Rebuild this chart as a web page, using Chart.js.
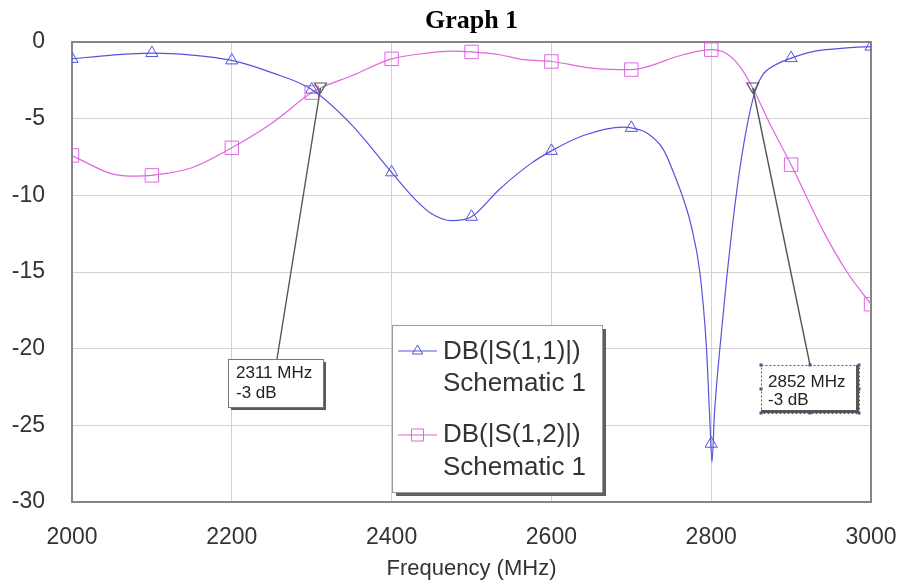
<!DOCTYPE html>
<html>
<head>
<meta charset="utf-8">
<script src="https://cdn.jsdelivr.net/npm/chart.js@4.4.1/dist/chart.umd.min.js"></script>
<style>
  html, body { margin: 0; padding: 0; background: #fff; }
  #wrap { width: 901px; height: 584px; }
</style>
</head>
<body>
<div id="wrap"><canvas id="myChart" width="901" height="584"></canvas></div>
<script>
// DB(|S(1,1)|) curve
const s11Freq = [2000, 2050, 2100, 2150, 2200, 2250, 2300, 2350, 2400, 2430, 2450, 2475, 2500, 2535, 2575, 2600, 2640, 2690, 2700, 2720, 2740, 2755, 2765, 2775, 2786, 2794, 2798, 2801, 2804, 2811, 2819, 2832, 2844, 2855, 2865, 2880, 2900, 2930, 2970, 3000];
const s11Db   = [-1.1, -0.85, -0.72, -0.85, -1.2, -2.0, -3.1, -5.4, -8.5, -10.3, -11.2, -11.65, -11.4, -9.6, -7.9, -7.1, -6.1, -5.55, -5.6, -5.95, -7.0, -8.8, -10.2, -12.0, -15.1, -19.9, -24.3, -27.4, -24.3, -19.9, -15.6, -9.7, -5.7, -3.2, -2.1, -1.5, -1.05, -0.6, -0.38, -0.3];

// DB(|S(1,2)|) curve
const s12Freq = [2000, 2050, 2080, 2100, 2150, 2200, 2250, 2300, 2311, 2350, 2400, 2445, 2475, 2500, 2535, 2565, 2600, 2650, 2700, 2765, 2800, 2819, 2836, 2852, 2875, 2900, 2940, 2970, 3000];
const s12Db   = [-7.4, -8.6, -8.75, -8.7, -8.2, -6.9, -5.3, -3.3, -3.0, -2.2, -1.1, -0.72, -0.6, -0.65, -0.83, -1.15, -1.27, -1.7, -1.8, -0.83, -0.5, -0.75, -1.6, -3.0, -5.5, -8.0, -12.3, -15.0, -17.1];

// marker symbols every 100 MHz
const markFreq  = [2000, 2100, 2200, 2300, 2400, 2500, 2600, 2700, 2800, 2900, 3000];
const s11Marks  = [-1.1, -0.72, -1.2, -3.1, -8.5, -11.4, -7.1, -5.6, -26.2, -1.05, -0.3];
const s12Marks  = [-7.4, -8.7, -6.9, -3.3, -1.1, -0.65, -1.27, -1.8, -0.5, -8.0, -17.1];

// -3 dB marker readouts
const readFreq = [2311, 2852];
const readDb   = [-3, -3];

const xTicks = [2000, 2200, 2400, 2600, 2800, 3000];
const yTicks = [0, -5, -10, -15, -20, -25, -30];

const BLUE = '#5454dc';
const PINK = '#e066e0';
const FONT = '"Liberation Sans", Arial, sans-serif';

function pts(xs, ys) {
  return xs.map((x, i) => ({ x: x, y: ys[i] }));
}

// title, frame, legend box and marker readouts
const extras = {
  id: 'extras',
  beforeDatasetsDraw(chart) {
    const ctx = chart.ctx, a = chart.chartArea;
    ctx.save();
    ctx.strokeStyle = '#858585';
    ctx.lineWidth = 2;
    ctx.strokeRect(a.left, a.top, a.right - a.left, a.bottom - a.top);
    ctx.restore();
  },
  afterDraw(chart) {
    const ctx = chart.ctx, a = chart.chartArea;
    const xs = chart.scales.x, ys = chart.scales.y;
    ctx.save();

    // title
    ctx.fillStyle = '#000';
    ctx.font = 'bold 26px "Liberation Serif", "Times New Roman", serif';
    ctx.textAlign = 'center';
    ctx.textBaseline = 'alphabetic';
    ctx.fillText('Graph 1', (a.left + a.right) / 2, 28);

    // marker readouts
    const boxes = [
      { l: 228, t: 359, r: 323, b: 407, lx: 277, tx: 236, b1: 378, b2: 398, sel: false },
      { l: 761, t: 365, r: 859, b: 413, lx: 810, tx: 768, b1: 387, b2: 405, sel: true }
    ];
    readFreq.forEach((f, i) => {
      const px = xs.getPixelForValue(f), py = ys.getPixelForValue(readDb[i]);
      const bx = boxes[i];
      ctx.strokeStyle = '#555';
      ctx.lineWidth = 1.4;
      ctx.beginPath();
      ctx.moveTo(bx.lx, bx.t);
      ctx.lineTo(px, py);
      ctx.stroke();
      // inverted triangle at the marker
      ctx.lineWidth = 1.2;
      ctx.beginPath();
      ctx.moveTo(px - 6, py - 5);
      ctx.lineTo(px + 6, py - 5);
      ctx.lineTo(px, py + 5);
      ctx.closePath();
      ctx.stroke();

      // box
      if (!bx.sel) {
        ctx.fillStyle = '#5a5a5a';
        ctx.fillRect(bx.l + 3, bx.t + 3, bx.r - bx.l, bx.b - bx.t);
        ctx.fillStyle = '#fff';
        ctx.fillRect(bx.l, bx.t, bx.r - bx.l, bx.b - bx.t);
        ctx.strokeStyle = '#777';
        ctx.lineWidth = 1;
        ctx.strokeRect(bx.l + 0.5, bx.t + 0.5, bx.r - bx.l, bx.b - bx.t);
      } else {
        ctx.fillStyle = '#fff';
        ctx.fillRect(bx.l, bx.t, bx.r - bx.l, bx.b - bx.t);
        ctx.fillStyle = '#555';
        ctx.fillRect(bx.l, bx.b - 3, bx.r - bx.l, 3);
        ctx.fillRect(bx.r - 3, bx.t, 3, bx.b - bx.t);
        ctx.strokeStyle = '#3d5a8a';
        ctx.lineWidth = 1;
        ctx.setLineDash([2, 2]);
        ctx.strokeRect(bx.l + 0.5, bx.t + 0.5, bx.r - bx.l, bx.b - bx.t);
        ctx.setLineDash([]);
        ctx.fillStyle = '#3d5a8a';
        const mx = (bx.l + bx.r) / 2, my = (bx.t + bx.b) / 2;
        [[bx.l, bx.t], [mx, bx.t], [bx.r, bx.t], [bx.l, my], [bx.r, my], [bx.l, bx.b], [mx, bx.b], [bx.r, bx.b]]
          .forEach(h => ctx.fillRect(h[0] - 1.5, h[1] - 1.5, 3, 3));
      }
      ctx.fillStyle = '#222';
      ctx.font = '17px ' + FONT;
      ctx.textAlign = 'left';
      ctx.fillText(f + ' MHz', bx.tx, bx.b1);
      ctx.fillText(readDb[i] + ' dB', bx.tx, bx.b2);
    });

    // legend
    const L = { l: 392, t: 325, r: 602, b: 492 };
    ctx.fillStyle = '#5f5f5f';
    ctx.fillRect(L.l + 4, L.t + 4, L.r - L.l, L.b - L.t);
    ctx.fillStyle = '#fff';
    ctx.fillRect(L.l, L.t, L.r - L.l, L.b - L.t);
    ctx.strokeStyle = '#9a9a9a';
    ctx.lineWidth = 1;
    ctx.strokeRect(L.l + 0.5, L.t + 0.5, L.r - L.l, L.b - L.t);

    const entries = [
      { name: 'DB(|S(1,1)|)', color: BLUE, style: 'triangle', r: 6, ly: 351, b1: 359, b2: 391 },
      { name: 'DB(|S(1,2)|)', color: PINK, style: 'rect', r: 8.5, ly: 435, b1: 442, b2: 475 }
    ];
    entries.forEach(e => {
      ctx.strokeStyle = e.color;
      ctx.lineWidth = 1.2;
      ctx.beginPath();
      ctx.moveTo(398, e.ly);
      ctx.lineTo(437, e.ly);
      ctx.stroke();
      ctx.fillStyle = 'rgba(255,255,255,0)';
      ctx.lineWidth = 1;
      Chart.helpers.drawPoint(ctx, { pointStyle: e.style, radius: e.r, borderWidth: 1, rotation: 0 }, 417.5, e.ly);
      ctx.fillStyle = '#333';
      ctx.font = '26px ' + FONT;
      ctx.textAlign = 'left';
      ctx.fillText(e.name, 443, e.b1);
      ctx.fillText('Schematic 1', 443, e.b2);
    });
    ctx.restore();
  }
};

var ctx = document.getElementById('myChart').getContext('2d');
var myChart = new Chart(ctx, {
  type: 'scatter',
  data: {
    datasets: [
      {
        label: 'DB(|S(1,1)|)',
        data: pts(s11Freq, s11Db),
        showLine: true,
        borderColor: BLUE,
        borderWidth: 1.2,
        pointRadius: 0,
        cubicInterpolationMode: 'monotone'
      },
      {
        label: 'S11 markers',
        data: pts(markFreq, s11Marks),
        showLine: false,
        pointStyle: 'triangle',
        pointRadius: 7,
        pointBorderWidth: 1,
        pointBorderColor: BLUE,
        pointBackgroundColor: 'rgba(0,0,0,0)'
      },
      {
        label: 'DB(|S(1,2)|)',
        data: pts(s12Freq, s12Db),
        showLine: true,
        borderColor: PINK,
        borderWidth: 1.2,
        pointRadius: 0,
        cubicInterpolationMode: 'monotone'
      },
      {
        label: 'S12 markers',
        data: pts(markFreq, s12Marks),
        showLine: false,
        pointStyle: 'rect',
        pointRadius: 9.5,
        pointBorderWidth: 1,
        pointBorderColor: PINK,
        pointBackgroundColor: 'rgba(0,0,0,0)'
      }
    ]
  },
  options: {
    responsive: false,
    animation: false,
    devicePixelRatio: 1,
    layout: { padding: { top: 42, right: 30, left: 0, bottom: 0 } },
    plugins: {
      legend: { display: false },
      tooltip: { enabled: false },
      title: { display: false }
    },
    scales: {
      x: {
        type: 'linear',
        min: 2000,
        max: 3000,
        afterFit: s => { s.height = 82; s.paddingLeft = 0; s.paddingRight = 0; },
        afterBuildTicks: s => { s.ticks = xTicks.map(v => ({ value: v })); },
        ticks: { color: '#333', font: { family: FONT, size: 23 }, padding: 22, maxRotation: 0, callback: v => String(v) },
        grid: { color: '#d2d2d2', drawTicks: false },
        border: { display: false },
        title: { display: true, text: 'Frequency (MHz)', color: '#333', font: { family: FONT, size: 22 }, padding: { top: 0, bottom: 2 } }
      },
      y: {
        min: -30,
        max: 0,
        afterFit: s => { s.width = 72; s.paddingTop = 0; s.paddingBottom = 0; },
        afterBuildTicks: s => { s.ticks = yTicks.map(v => ({ value: v })); },
        ticks: { color: '#333', font: { family: FONT, size: 23 }, padding: 27, callback: v => String(v) },
        grid: { color: '#d2d2d2', drawTicks: false },
        border: { display: false }
      }
    }
  },
  plugins: [extras]
});
</script>
</body>
</html>
